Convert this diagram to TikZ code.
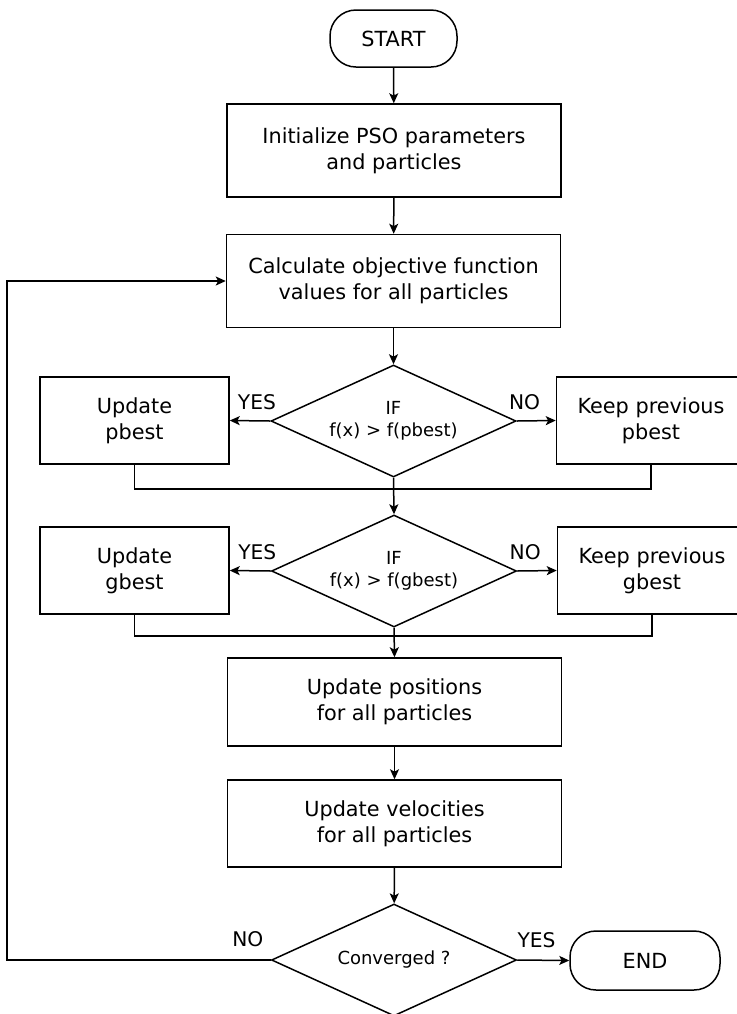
\documentclass[tikz,border=0pt]{standalone}
\usepackage{fontspec}
\setmainfont{DejaVu Sans}
\usetikzlibrary{shapes.geometric,arrows.meta}
\tikzset{
	procbox/.style={draw,line width=0.75pt,align=center,minimum width=167pt,minimum height=46.5pt,inner sep=2pt,font=\fontsize{10.4}{13}\selectfont},
	smallbox/.style={procbox,minimum width=94.5pt,minimum height=43.5pt},
	termbox/.style={draw,line width=0.75pt,rounded corners=13pt,align=center,font=\fontsize{10.4}{13}\selectfont},
	decbox/.style={draw,line width=0.75pt,diamond,aspect=2.2,inner sep=0pt,minimum width=122.5pt,minimum height=56pt,align=center,font=\fontsize{9}{11}\selectfont},
	flow/.style={line width=0.75pt,-{Stealth[length=5pt,width=4.5pt,inset=1.2pt]}},
	answer/.style={font=\fontsize{10.1}{12}\selectfont,inner sep=2pt}
}
\begin{document}
\begin{tikzpicture}[x=0.5pt,y=-0.5pt]
	\useasboundingbox (0,0) rectangle (737,1014);
	\clip (0,0) rectangle (737,1014);
	% main column
	\node[termbox,minimum width=63.5pt,minimum height=28.5pt] (start) at (393.5,38.5) {START};
	\node[procbox] (init) at (394,150.5) {Initialize PSO parameters\\and particles};
	\node[procbox] (calc) at (393.5,281) {Calculate objective function\\values for all particles};
	\node[decbox] (dec1) at (393.5,421) {IF\\f(x) > f(pbest)};
	\node[smallbox] (upd1) at (134.5,420.5) {Update\\pbest};
	\node[smallbox] (keep1) at (651,420.5) {Keep previous\\pbest};
	\node[decbox] (dec2) at (394,571) {IF\\f(x) > f(gbest)};
	\node[smallbox] (upd2) at (134.5,570.5) {Update\\gbest};
	\node[smallbox] (keep2) at (652,570.5) {Keep previous\\gbest};
	\node[procbox,minimum height=44pt] (pos) at (394.5,702) {Update positions\\for all particles};
	\node[procbox,minimum height=43.5pt] (vel) at (394.5,823.5) {Update velocities\\for all particles};
	\node[decbox] (dec3) at (394,960) {Converged ?};
	\node[termbox,minimum width=75pt,minimum height=29.5pt] (end) at (645,960.5) {END};
	% connectors
	\draw[flow] (start) -- (init);
	\draw[flow] (init) -- (calc);
	\draw[flow] (calc) -- (dec1);
	\draw[flow] (dec1.west) -- node[answer,pos=0.33,above=3pt] {YES} (upd1.east);
	\draw[flow] (dec1.east) -- node[answer,pos=0.2,above=3pt] {NO} (keep1.west);
	\draw[line width=0.75pt] (upd1.south) -- ++(0,24) -| (keep1.south);
	\draw[flow] (dec1.south) -- (dec2.north);
	\draw[flow] (dec2.west) -- node[answer,pos=0.33,above=3pt] {YES} (upd2.east);
	\draw[flow] (dec2.east) -- node[answer,pos=0.2,above=3pt] {NO} (keep2.west);
	\draw[line width=0.75pt] (upd2.south) -- ++(0,21) -| (keep2.south);
	\draw[flow] (dec2.south) -- (pos.north);
	\draw[flow] (pos) -- (vel);
	\draw[flow] (vel) -- (dec3);
	\draw[flow] (dec3.east) -- node[answer,pos=0.37,above=4pt] {YES} (end.west);
	\draw[flow] (dec3.west) -- node[answer,pos=0.087,above=4pt] {NO} ++(-264,0) |- (calc.west);
\end{tikzpicture}
\end{document}
